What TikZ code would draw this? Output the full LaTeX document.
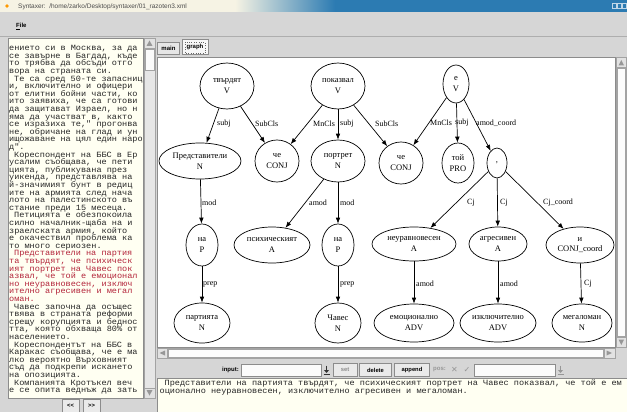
\documentclass[tikz,border=0pt]{standalone}
\usepackage{fontspec}
\setmainfont{Liberation Serif}
\newfontfamily\uifont{Liberation Sans}
\newfontfamily\txtmono[FakeStretch=1.07]{Liberation Mono}
\newfontfamily\symfont{DejaVu Sans}
\usetikzlibrary{shapes.geometric,arrows.meta}
\definecolor{uigray}{HTML}{D6D6D6}
\definecolor{uidark}{HTML}{8C8C8C}
\definecolor{cream}{HTML}{FFFFF2}
\definecolor{titleblue}{HTML}{2C7BB2}
\definecolor{titlepale}{HTML}{F6F3E4}
\definecolor{redtext}{HTML}{B3243A}
\definecolor{track}{HTML}{E6E6E6}
\begin{document}
\begin{tikzpicture}[x=1pt,y=-1pt,
  gnode/.style={ellipse,draw=black,line width=0.7pt,inner sep=0pt,align=center,font=\fontsize{8.5}{10.5}\selectfont,fill=white},
  elbl/.style={anchor=west,inner sep=0pt,font=\fontsize{8}{9}\selectfont},
  garrow/.style={line width=0.7pt,-{Latex[length=6pt,width=4.6pt]}},
  panel/.style={draw=uidark,line width=0.5pt},
  btn/.style={draw=uidark,fill=uigray!50!white,line width=0.5pt,inner sep=0pt,minimum height=13pt,font=\uifont\bfseries\fontsize{5.8}{7}\selectfont},
  mono/.style={inner sep=0pt,align=left,font=\txtmono\fontsize{8}{7.6}\selectfont,text=black!85},
  uitext/.style={inner sep=0pt,font=\uifont\bfseries\fontsize{6}{7}\selectfont},
  sbar/.style={draw=uidark!80,fill=track,line width=0.4pt},
  sbox/.style={draw=uidark!80,fill=uigray!70!white,line width=0.4pt},
  sarrow/.style={fill=uidark!90}
]
\useasboundingbox (0,0) rectangle (627,412);
\fill[uigray] (0,0) rectangle (627,412);
% ---------- title bar
\fill[titleblue] (0,0) rectangle (627,12);
\fill[titlepale] (0,0) rectangle (235,12);
\shade[left color=titlepale,right color=titleblue] (235,0) rectangle (335,12);
\fill[orange!80!yellow] (7,6) circle (1.8);
\node[anchor=west,inner sep=0pt,font=\uifont\fontsize{6.5}{7}\selectfont,text=black!70] (title) at (18,6.5) {Syntaxer:\ \ /home/zarko/Desktop/syntaxer/01\_razoten3.xml};
\draw[white!70!titleblue,line width=0.4pt] (612,3.5) rectangle (616,8.5) (617,3.5) rectangle (621,8.5) (622,3.5) rectangle (626,8.5);
% ---------- menu bar
\node[uitext,anchor=west] (filemenu) at (16,26.5) {\underline{F}ile};
\draw[uidark!70,line width=0.5pt] (0,36.5) -- (627,36.5);
% ---------- left text panel
\draw[panel,fill=cream] (8,38) rectangle (143.5,398);
\begin{scope}
\clip (8.5,38.5) rectangle (143,397.5);
\node[mono,anchor=north west] (lefttext) at (9,45.3) {%
ението си в Москва, за да\\
се завърне в Багдад, къде\\
то трябва да обсъди отго\\
вора на страната си.\\
\hspace*{5pt}Те са сред 50-те запасниц\\
и, включително и офицери\\
от елитни бойни части, ко\\
ито заявиха, че са готови\\
да защитават Израел, но н\\
яма да участват в, както\\
се изразиха те," прогонва\\
не, обричане на глад и ун\\
ищожаване на цял един наро\\
д".\\
\hspace*{5pt}Кореспондент на ББС в Ер\\
усалим съобщава, че пети\\
цията, публикувана през\\
уикенда, представлява на\\
й-значимият бунт в редиц\\
ите на армията след нача\\
лото на палестинското въ\\
стание преди 15 месеца.\\
\hspace*{5pt}Петицията е обезпокоила\\
силно началник-щаба на и\\
зраелската армия, който\\
е окачествил проблема ка\\
то много сериозен.\\
\textcolor{redtext}{\hspace*{5pt}Представители на партия}\\
\textcolor{redtext}{та твърдят, че психическ}\\
\textcolor{redtext}{ият портрет на Чавес пок}\\
\textcolor{redtext}{азвал, че той е емоционал}\\
\textcolor{redtext}{но неуравновесен, изключ}\\
\textcolor{redtext}{ително агресивен и мегал}\\
\textcolor{redtext}{оман.}\\
\hspace*{5pt}Чавес започна да осъщес\\
твява в страната реформи\\
срещу корупцията и беднос\\
тта, която обхваща 80\% от\\
населението.\\
\hspace*{5pt}Кореспондентът на ББС в\\
Каракас съобщава, че е ма\\
лко вероятно Върховният\\
съд да подкрепи искането\\
на опозицията.\\
\hspace*{5pt}Компанията Кротъкел веч\\
е се опита веднъж да зать};
\end{scope}
% left scrollbar
\draw[sbar] (144,38) rectangle (155,398);
\draw[sbox] (144,38) rectangle (155,48);
\fill[sarrow] (146.5,46) -- (152.5,46) -- (149.5,40.5) -- cycle;
\draw[sbox,fill=white!90!uigray] (145,49) rectangle (154,70);
\draw[sbox] (144,388) rectangle (155,398);
\fill[sarrow] (146.5,390) -- (152.5,390) -- (149.5,395.5) -- cycle;
% buttons
\node[btn,minimum width=17pt] (prevbtn) at (70.5,405.5) {<<};
\node[btn,minimum width=17pt] (nextbtn) at (91.5,405.5) {>>};
% ---------- tabs
\node[draw=uidark,fill=uigray!60!white,inner sep=0pt,minimum width=22pt,minimum height=12pt,uitext] (tabmain) at (168.5,48.5) {main};
\node[draw=uidark,fill=white!80!uigray,inner sep=0pt,minimum width=26pt,minimum height=15pt,uitext] (tabgraph) at (195,47) {graph};
\draw[black!60,dotted,line width=0.4pt] (185,42) rectangle (205,53);
% ---------- canvas
\draw[panel,fill=white] (157,57.5) rectangle (615.5,347.5);
% graph nodes
\node[gnode,minimum width=54pt,minimum height=46pt] (tv) at (227,86) {твърдят\\V};
\node[gnode,minimum width=54pt,minimum height=46pt] (pok) at (338,86) {показвал\\V};
\node[gnode,minimum width=26pt,minimum height=38pt] (ev) at (456,84) {е\\V};
\node[gnode,minimum width=82pt,minimum height=36pt] (pred) at (200,161) {Представители\\N};
\node[gnode,minimum width=44pt,minimum height=42pt] (cheA) at (277,161) {че\\CONJ};
\node[gnode,minimum width=54pt,minimum height=42pt] (port) at (338,161) {портрет\\N};
\node[gnode,minimum width=44pt,minimum height=42pt] (cheB) at (401,163) {че\\CONJ};
\node[gnode,minimum width=32pt,minimum height=40pt] (toy) at (458,163) {той\\PRO};
\node[gnode,minimum width=20pt,minimum height=30pt] (comma) at (497,163) {,};
\node[gnode,minimum width=32pt,minimum height=42pt] (naA) at (202,245) {на\\P};
\node[gnode,minimum width=76pt,minimum height=36pt] (psih) at (272,245) {психическият\\A};
\node[gnode,minimum width=32pt,minimum height=42pt] (naB) at (338,245) {на\\P};
\node[gnode,minimum width=84pt,minimum height=34pt] (neur) at (414,244) {неуравновесен\\A};
\node[gnode,minimum width=58pt,minimum height=34pt] (agr) at (498,244) {агресивен\\A};
\node[gnode,minimum width=68pt,minimum height=36pt] (icoord) at (580,245) {и\\CONJ\_coord};
\node[gnode,minimum width=56pt,minimum height=40pt] (part) at (202,323) {партията\\N};
\node[gnode,minimum width=46pt,minimum height=40pt] (chav) at (338,323) {Чавес\\N};
\node[gnode,minimum width=80pt,minimum height=38pt] (emo) at (414,323) {емоционално\\ADV};
\node[gnode,minimum width=76pt,minimum height=38pt] (izk) at (498,323) {изключително\\ADV};
\node[gnode,minimum width=60pt,minimum height=38pt] (meg) at (582,323) {мегаломан\\N};
% graph edges
\draw[garrow] (tv) -- (pred);
\draw[garrow] (tv) -- (cheA);
\draw[garrow] (pok) -- (cheA);
\draw[garrow] (pok) -- (port);
\draw[garrow] (pok) -- (cheB);
\draw[garrow] (ev) -- (cheB);
\draw[garrow] (ev) -- (toy);
\draw[garrow] (ev) -- (comma);
\draw[garrow] (pred) -- (naA);
\draw[garrow] (port) -- (psih);
\draw[garrow] (port) -- (naB);
\draw[garrow] (naA) -- (part);
\draw[garrow] (naB) -- (chav);
\draw[garrow] (comma) -- (neur);
\draw[garrow] (comma) -- (agr);
\draw[garrow] (comma) -- (icoord);
\draw[garrow] (neur) -- (emo);
\draw[garrow] (agr) -- (izk);
\draw[garrow] (icoord) -- (meg);
% edge labels
\node[elbl] (l1) at (217,124) {subj};
\node[elbl] (l2) at (255,124) {SubCls};
\node[elbl] (l3) at (313,124) {MnCls};
\node[elbl] (l4) at (340,124) {subj};
\node[elbl] (l5) at (375,124) {SubCls};
\node[elbl] (l6) at (430,123) {MnCls};
\node[elbl] (l7) at (455,123) {subj};
\node[elbl] (l8) at (476,123) {amod\_coord};
\node[elbl] (l9) at (202,203) {mod};
\node[elbl] (l10) at (309,203) {amod};
\node[elbl] (l11) at (340,203) {mod};
\node[elbl] (l12) at (467,203) {Cj};
\node[elbl] (l13) at (500,203) {Cj};
\node[elbl] (l14) at (543,203) {Cj\_coord};
\node[elbl] (l15) at (203,284) {prep};
\node[elbl] (l16) at (340,284) {prep};
\node[elbl] (l17) at (416,284) {amod};
\node[elbl] (l18) at (500,284) {amod};
\node[elbl] (l19) at (584,284) {Cj};
% vertical scrollbar
\draw[sbar] (616,57.5) rectangle (626.5,347.5);
\draw[sbox] (616,57.5) rectangle (626.5,67.5);
\fill[sarrow] (618.5,65.5) -- (624,65.5) -- (621.25,60) -- cycle;
\draw[sbox,fill=white!92!uigray] (617,68.5) rectangle (625.5,336.5);
\draw[sbox] (616,337.5) rectangle (626.5,347.5);
\fill[sarrow] (618.5,339.5) -- (624,339.5) -- (621.25,345) -- cycle;
% horizontal scrollbar
\draw[sbar] (157,348) rectangle (615.5,358);
\draw[sbox] (157,348) rectangle (167,358);
\fill[sarrow] (165,350.5) -- (165,355.5) -- (159.5,353) -- cycle;
\draw[sbox,fill=white!92!uigray] (168,349) rectangle (603,357);
\draw[sbox] (604,348) rectangle (615.5,358);
\fill[sarrow] (606.5,350.5) -- (606.5,355.5) -- (612,353) -- cycle;
% ---------- toolbar
\node[uitext,anchor=east] (inputlbl) at (239,370) {input:};
\draw[panel,fill=white!90!uigray] (241,364) rectangle (321,376);
\draw[black!80,line width=0.6pt] (326.5,365.5) -- (326.5,371.5) (323.5,374.5) -- (329.5,374.5);
\fill[black!80] (324,370) -- (329,370) -- (326.5,373) -- cycle;
\node[btn,minimum width=24pt,text=uidark] (setbtn) at (345,370) {set};
\node[btn,minimum width=32pt] (delbtn) at (375.5,370) {delete};
\node[btn,minimum width=35pt] (appbtn) at (412,370) {append};
\node[uitext,text=uidark!90] (poslbl) at (439.5,370) {pos:};
\node[inner sep=0pt,font=\symfont\fontsize{8}{8}\selectfont,text=uidark!90] (xicon) at (454.5,370) {✕};
\node[inner sep=0pt,font=\symfont\fontsize{8}{8}\selectfont,text=uidark!90] (okicon) at (467,370) {✓};
\draw[panel,fill=white!90!uigray] (474,364) rectangle (555,376);
\draw[uidark!90,line width=0.6pt] (560.5,365.5) -- (560.5,371.5) (557.5,374.5) -- (563.5,374.5);
\fill[uidark!90] (558,370) -- (563,370) -- (560.5,373) -- cycle;
% ---------- bottom text
\draw[panel,fill=cream] (157,378) rectangle (627.5,413);
\node[mono,anchor=north west] (bottomtext) at (159.5,379.5) {%
\hspace*{5pt}Представители на партията твърдят, че психическият портрет на Чавес показвал, че той е ем\\
оционално неуравновесен, изключително агресивен и мегаломан.};
\end{tikzpicture}
\end{document}
